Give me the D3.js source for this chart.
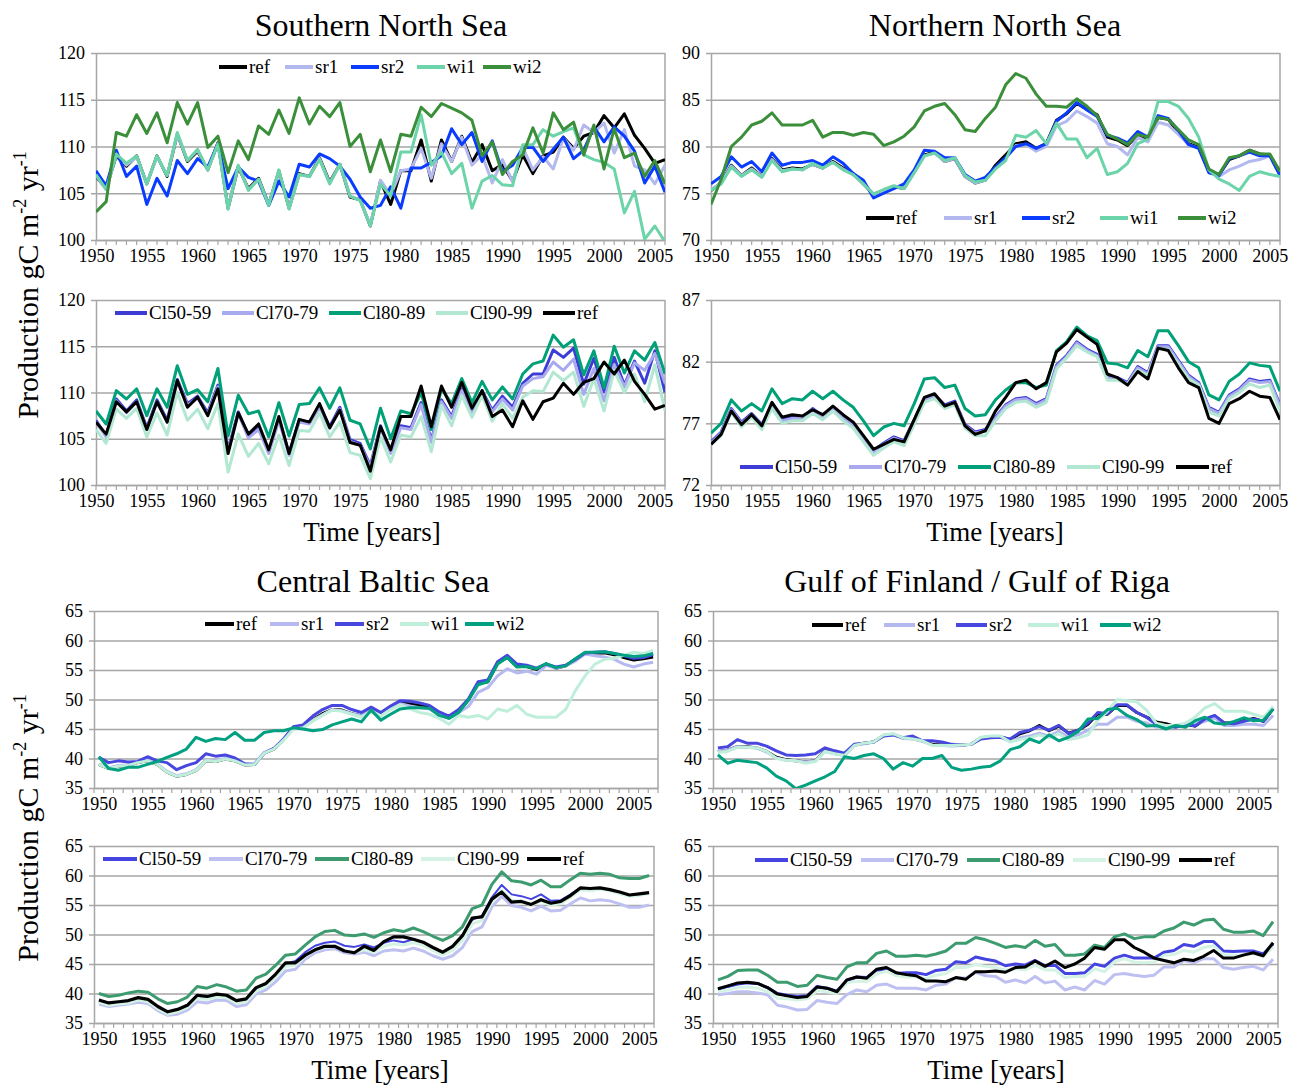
<!DOCTYPE html>
<html>
<head>
<meta charset="utf-8">
<script src="https://cdn.jsdelivr.net/npm/d3@7"></script>
<style>
  body { margin: 0; background: #fff; }
  svg text { font-family: "Liberation Serif", "Times New Roman", serif !important; fill: #000; }
</style>
</head>
<body>
<script>
// ---- categories / ticks ----
const ticksSouth = [100, 105, 110, 115, 120];
const ticksNorth = [70, 75, 80, 85, 90];
const ticksNorthCl = [72, 77, 82, 87];
const ticksBaltic = [35, 40, 45, 50, 55, 60, 65];
const scenNames = ['ref', 'sr1', 'sr2', 'wi1', 'wi2'];
const climNames = ['Cl50-59', 'Cl70-79', 'Cl80-89', 'Cl90-99', 'ref'];

// ---- Southern North Sea, 1950-2006 ----
const refSouth = [106.8, 105.5, 109.0, 107.9, 109.0, 106.0, 109.0, 106.8, 111.3, 108.4,
  109.5, 107.5, 110.4, 103.4, 107.8, 105.5, 106.6, 103.8, 107.4, 103.4,
  107.1, 106.8, 108.8, 106.2, 108.1, 104.6, 104.3, 101.5, 106.3, 103.8,
  107.4, 107.4, 110.7, 106.3, 110.7, 108.4, 111.1, 108.3, 110.2, 107.4,
  108.1, 106.3, 109.1, 107.1, 109.0, 109.4, 111.0, 109.8, 111.1, 111.5,
  113.3, 112.0, 113.5, 111.2, 109.8, 108.2, 108.6];
const sr1South = [106.9, 105.4, 109.1, 108.0, 108.9, 106.0, 108.9, 106.9, 111.3, 108.5,
  109.6, 107.5, 110.3, 103.4, 107.9, 105.4, 106.5, 103.8, 107.4, 103.4,
  107.0, 106.8, 108.7, 106.1, 108.1, 104.7, 104.3, 101.6, 106.4, 104.8,
  107.4, 107.6, 109.8, 106.6, 110.3, 108.4, 111.0, 108.0, 109.1, 106.1,
  108.6, 106.2, 109.9, 107.5, 108.9, 107.6, 110.9, 109.6, 112.3, 111.5,
  112.5, 109.3, 111.8, 107.9, 107.5, 106.0, 108.0];
const sr2South = [107.4, 105.8, 109.6, 106.8, 107.9, 103.8, 106.6, 104.7, 108.5, 107.1,
  108.7, 107.8, 110.3, 105.5, 107.8, 106.7, 106.3, 103.7, 106.3, 104.6,
  108.1, 107.8, 109.2, 108.7, 107.9, 106.5, 104.6, 103.4, 103.7, 105.7,
  103.4, 107.7, 107.7, 108.3, 109.0, 111.9, 110.2, 111.5, 108.4, 110.6,
  107.3, 108.0, 109.9, 109.9, 108.4, 109.7, 111.0, 108.7, 109.6, 112.1,
  110.5, 112.1, 111.1, 109.5, 106.1, 107.9, 105.1];
const wi1South = [107.0, 105.4, 109.2, 108.2, 109.0, 106.0, 109.0, 106.9, 111.5, 108.5,
  109.7, 107.5, 110.3, 103.3, 108.0, 105.3, 106.5, 103.7, 107.5, 103.3,
  107.0, 106.8, 108.6, 106.0, 108.1, 104.7, 104.2, 101.5, 106.0, 104.7,
  109.4, 109.4, 113.4, 108.0, 109.4, 107.1, 108.2, 103.4, 106.3, 106.9,
  105.9, 105.8, 110.2, 110.2, 111.8, 111.1, 111.6, 112.0, 109.1, 108.6,
  108.3, 107.6, 102.9, 105.2, 100.1, 101.5, 99.8];
const wi2South = [103.0, 104.1, 111.5, 111.1, 113.4, 111.4, 113.6, 110.4, 114.7, 112.4,
  114.7, 109.9, 111.1, 107.2, 110.6, 108.6, 112.2, 111.3, 113.9, 111.4,
  115.2, 112.4, 114.3, 113.2, 114.7, 110.0, 111.3, 107.3, 110.7, 107.3,
  111.3, 111.1, 114.2, 113.2, 114.6, 114.1, 113.6, 112.8, 109.0, 110.5,
  107.0, 108.4, 109.1, 112.0, 109.3, 113.6, 111.8, 112.6, 109.1, 112.3,
  107.6, 111.9, 108.8, 109.3, 106.8, 108.5, 106.0];
const cl50South = [107.0, 105.3, 109.3, 108.0, 109.2, 106.2, 109.2, 107.0, 111.4, 108.8,
  109.6, 107.8, 110.8, 103.8, 107.9, 105.3, 106.2, 103.6, 107.2, 103.4,
  107.0, 106.8, 108.6, 106.3, 108.4, 104.9, 104.5, 102.1, 106.4, 103.6,
  106.4, 106.2, 108.9, 104.8, 109.2, 107.4, 110.4, 107.8, 110.2, 108.1,
  109.6, 108.4, 111.0, 112.0, 112.0, 114.6, 113.8, 114.8, 110.9, 113.7,
  110.1, 113.8, 110.8, 113.4, 111.0, 114.5, 110.0];
const cl70South = [106.8, 105.2, 109.1, 107.8, 109.0, 106.0, 109.0, 106.8, 111.2, 108.6,
  109.4, 107.6, 110.6, 103.6, 107.7, 105.1, 106.0, 103.4, 107.0, 103.2,
  106.8, 106.6, 108.4, 106.1, 108.2, 104.7, 104.3, 101.9, 106.2, 103.4,
  106.2, 106.0, 108.7, 104.6, 109.0, 107.2, 110.2, 107.6, 110.0, 107.9,
  109.3, 108.1, 110.7, 111.5, 111.7, 113.3, 112.4, 113.6, 109.8, 112.6,
  109.1, 113.0, 110.6, 113.2, 112.4, 114.2, 111.0];
const cl80South = [108.0, 106.6, 110.2, 109.3, 110.4, 107.5, 110.4, 108.4, 112.9, 109.8,
  110.3, 109.0, 112.6, 105.3, 109.7, 107.7, 108.0, 105.2, 108.9, 105.3,
  108.7, 108.8, 110.5, 108.3, 110.5, 107.0, 106.6, 103.9, 108.3, 105.0,
  108.0, 107.7, 110.0, 106.0, 110.4, 108.8, 111.5, 108.9, 111.2, 109.2,
  110.6, 109.3, 112.0, 113.1, 113.4, 116.2, 114.9, 115.7, 111.9, 114.5,
  110.5, 115.0, 112.1, 114.5, 113.5, 115.4, 112.0];
const cl90South = [106.0, 104.5, 108.2, 107.2, 108.3, 105.2, 107.8, 105.4, 110.0, 107.0,
  108.2, 106.1, 108.8, 101.4, 105.5, 103.1, 104.5, 102.3, 105.4, 102.1,
  105.9, 105.8, 107.8, 105.2, 106.8, 103.5, 103.2, 100.7, 105.2, 102.5,
  105.4, 105.2, 107.4, 103.6, 108.6, 106.4, 109.7, 107.3, 109.7, 106.9,
  108.8, 107.2, 109.5, 110.2, 110.1, 112.2, 111.3, 112.2, 108.5, 111.5,
  108.0, 112.4, 110.0, 112.0, 109.0, 113.0, 108.0];

// ---- Northern North Sea, 1950-2006 ----
const refNorth = [75.3, 76.1, 78.0, 76.9, 77.7, 76.8, 78.7, 77.5, 77.7, 77.6,
  78.1, 77.7, 78.4, 77.7, 77.1, 76.0, 74.9, 75.3, 75.7, 75.5,
  77.3, 79.1, 79.4, 78.4, 78.7, 76.8, 76.1, 76.4, 78.0, 79.1,
  80.3, 80.5, 79.8, 80.3, 82.8, 83.5, 84.6, 84.0, 83.4, 81.0,
  80.7, 80.1, 81.2, 80.6, 83.1, 82.9, 81.5, 80.3, 79.9, 77.4,
  77.0, 78.6, 79.0, 79.6, 79.2, 79.1, 77.3];
const sr1North = [75.4, 76.1, 77.9, 76.9, 77.6, 76.8, 78.6, 77.4, 77.6, 77.5,
  78.1, 77.7, 78.3, 77.6, 77.0, 76.0, 74.9, 75.3, 75.7, 75.5,
  77.2, 79.0, 79.3, 78.4, 78.7, 76.8, 76.1, 76.4, 77.7, 78.7,
  80.1, 80.2, 79.5, 80.0, 82.2, 82.7, 83.8, 83.2, 82.5, 80.3,
  80.0, 79.1, 81.0, 80.5, 82.6, 82.3, 81.3, 80.2, 79.8, 77.3,
  76.8, 77.5, 77.9, 78.4, 78.6, 79.0, 77.0];
const sr2North = [76.0, 76.8, 78.9, 77.8, 78.4, 77.3, 79.3, 78.0, 78.3, 78.3,
  78.5, 78.0, 78.9, 78.2, 77.1, 76.4, 74.5, 75.0, 75.5, 76.0,
  77.5, 79.6, 79.5, 78.8, 78.8, 77.0, 76.3, 76.7, 77.8, 78.8,
  80.0, 80.3, 79.8, 80.3, 82.7, 83.6, 84.7, 83.9, 83.2, 81.2,
  80.9, 80.4, 81.6, 81.0, 83.3, 83.0, 81.7, 80.2, 79.8, 77.2,
  76.9, 78.7, 79.0, 79.4, 79.0, 79.0, 76.9];
const wi1North = [75.3, 76.0, 77.8, 76.8, 77.5, 76.7, 78.5, 77.3, 77.6, 77.5,
  78.2, 77.7, 78.3, 77.5, 77.0, 76.0, 74.9, 75.4, 75.8, 75.5,
  77.2, 79.0, 79.3, 78.5, 78.8, 76.9, 76.2, 76.4, 77.6, 78.5,
  81.2, 81.0, 81.7, 80.3, 82.5, 80.8, 80.8, 78.8, 79.8, 77.0,
  77.3, 78.2, 80.3, 80.8, 84.8, 84.8, 84.3, 83.0, 81.0, 77.5,
  76.5, 76.0, 75.3, 76.8, 77.3, 77.0, 76.8];
const wi2North = [73.8, 76.5, 80.0, 81.0, 82.3, 82.7, 83.6, 82.3, 82.3, 82.3,
  82.8, 81.0, 81.5, 81.5, 81.2, 81.5, 81.3, 80.1, 80.5, 81.1,
  82.1, 83.8, 84.3, 84.6, 83.4, 81.8, 81.6, 83.0, 84.2, 86.6,
  87.8, 87.3, 85.6, 84.3, 84.3, 84.2, 85.1, 84.3, 83.3, 81.3,
  80.8, 80.2, 81.3, 81.0, 83.1, 82.9, 81.8, 80.7, 80.2, 77.6,
  77.0, 78.8, 79.0, 79.6, 79.2, 79.2, 77.3];
const cl50North = [75.5, 76.3, 78.2, 77.1, 77.8, 76.9, 78.5, 77.3, 77.5, 77.5,
  78.2, 77.6, 78.3, 77.5, 76.9, 75.8, 74.8, 75.4, 75.9, 75.6,
  77.3, 79.0, 79.3, 78.5, 78.8, 76.9, 76.3, 76.5, 77.5, 78.5,
  79.0, 79.1, 78.6, 79.0, 81.7, 82.5, 83.6, 83.0, 82.6, 80.8,
  80.7, 80.3, 81.6, 81.1, 83.3, 83.3, 82.1, 80.9, 80.3, 78.3,
  77.9, 79.3, 79.8, 80.6, 80.4, 80.5, 78.5];
const cl70North = [75.4, 76.2, 78.1, 77.0, 77.7, 76.8, 78.4, 77.2, 77.4, 77.4,
  78.1, 77.5, 78.2, 77.4, 76.8, 75.7, 74.7, 75.3, 75.8, 75.5,
  77.2, 78.9, 79.2, 78.4, 78.7, 76.8, 76.2, 76.4, 77.4, 78.4,
  78.9, 79.0, 78.5, 78.9, 81.6, 82.4, 83.5, 82.9, 82.5, 80.7,
  80.6, 80.2, 81.5, 81.0, 83.2, 83.2, 82.0, 80.8, 80.2, 78.2,
  77.8, 79.2, 79.7, 80.5, 80.3, 80.4, 78.4];
const cl80North = [76.2, 77.0, 78.9, 78.0, 78.6, 78.0, 79.8, 78.6, 79.0, 78.9,
  79.6, 79.0, 79.6, 78.9, 78.3, 77.2, 76.0, 76.7, 77.0, 76.8,
  78.6, 80.6, 80.7, 79.9, 80.1, 78.2, 77.6, 77.7, 78.9, 79.7,
  80.3, 80.3, 79.9, 80.1, 82.9, 83.6, 84.8, 84.1, 83.7, 81.9,
  81.8, 81.5, 82.9, 82.4, 84.5, 84.5, 83.3, 82.0, 81.5, 79.3,
  78.9, 80.4, 81.0, 81.9, 81.7, 81.6, 79.6];
const cl90North = [75.3, 76.0, 77.9, 76.7, 77.5, 76.5, 78.2, 77.0, 77.2, 77.2,
  77.8, 77.3, 78.0, 77.2, 76.6, 75.5, 74.4, 75.0, 75.5, 75.2,
  76.9, 78.7, 79.0, 78.2, 78.5, 76.6, 76.0, 76.0, 77.2, 78.2,
  78.7, 78.8, 78.3, 78.7, 81.4, 82.3, 83.3, 82.8, 82.4, 80.5,
  80.5, 80.2, 81.3, 80.9, 83.0, 83.0, 81.8, 80.6, 80.1, 77.9,
  77.6, 79.0, 79.5, 80.2, 79.9, 80.1, 78.0];

// ---- Central Baltic Sea, scenarios 1950-2007 ----
const refCentral = [39.0, 38.3, 38.7, 38.8, 39.3, 39.6, 39.0, 37.7, 37.0, 37.3,
  38.0, 39.6, 39.5, 39.9, 39.6, 38.9, 39.0, 40.9, 41.6, 43.2,
  45.2, 45.3, 46.6, 47.6, 48.3, 48.2, 47.6, 47.2, 48.2, 47.4,
  48.6, 49.4, 49.3, 49.0, 48.7, 47.6, 47.0, 48.0, 49.9, 52.7,
  53.0, 56.1, 57.2, 55.6, 55.6, 55.1, 56.0, 55.3, 55.7, 56.8,
  57.9, 57.9, 57.9, 57.6, 57.1, 56.7, 56.9, 57.2];
const sr1Central = [39.1, 38.4, 38.8, 38.9, 39.4, 39.7, 39.1, 37.8, 37.1, 37.4,
  38.1, 39.7, 39.6, 40.0, 39.7, 39.0, 39.1, 41.0, 41.7, 43.3,
  45.0, 45.2, 46.5, 47.4, 48.3, 48.1, 47.6, 47.2, 48.2, 47.3,
  48.5, 49.3, 48.9, 48.6, 48.4, 47.5, 46.8, 47.8, 48.8, 51.2,
  52.0, 54.0, 55.2, 54.5, 54.8, 54.3, 55.8, 55.3, 55.7, 56.5,
  57.7, 57.4, 57.2, 56.8, 56.0, 55.5, 56.0, 56.3];
const sr2Central = [40.2, 39.3, 39.6, 39.4, 39.5, 40.3, 39.6, 39.3, 38.1, 38.8,
  39.3, 40.8, 40.4, 40.6, 40.1, 39.1, 39.0, 40.9, 41.7, 43.3,
  45.4, 45.7, 47.2, 48.3, 49.0, 49.0, 48.3, 47.8, 48.7, 47.8,
  48.9, 49.8, 49.7, 49.4, 49.0, 47.9, 47.2, 48.3, 50.1, 53.0,
  53.3, 56.4, 57.5, 56.0, 55.8, 55.3, 56.0, 55.5, 55.8, 56.8,
  57.9, 58.0, 58.1, 57.8, 57.4, 57.0, 57.1, 57.6];
const wi1Central = [39.0, 38.3, 38.7, 38.8, 39.3, 39.6, 39.0, 37.7, 37.0, 37.3,
  38.0, 39.6, 39.5, 39.9, 39.6, 38.9, 39.0, 40.9, 41.6, 43.1,
  45.0, 45.2, 46.3, 47.3, 48.2, 48.0, 47.5, 47.0, 48.0, 47.2,
  48.3, 49.1, 48.4, 47.8, 47.5, 46.8, 45.8, 47.3, 47.0, 47.3,
  46.7, 48.4, 48.0, 49.0, 47.5, 47.0, 47.0, 47.0, 48.3, 51.5,
  54.0, 56.0, 56.8, 57.0, 57.5, 58.0, 57.8, 58.3];
const wi2Central = [40.3, 38.3, 38.0, 38.5, 38.5, 39.0, 39.5, 40.2, 40.8, 41.6,
  43.6, 42.9, 43.4, 43.2, 44.4, 43.1, 43.1, 44.4, 44.7, 44.7,
  45.2, 45.0, 44.7, 44.9, 45.7, 46.2, 46.7, 46.2, 48.2, 46.5,
  47.5, 48.4, 48.6, 48.6, 48.5, 47.3, 46.8, 47.8, 49.9, 52.5,
  53.0, 56.0, 57.1, 55.5, 55.6, 55.2, 56.1, 55.4, 55.7, 56.9,
  58.0, 58.0, 58.1, 57.8, 57.5, 57.3, 57.4, 57.8];

// ---- Gulf of Finland / Gulf of Riga, scenarios 1950-2007 ----
const refGulf = [41.2, 41.4, 42.0, 42.0, 41.8, 41.2, 40.2, 39.8, 39.6, 39.4,
  39.6, 41.3, 40.9, 40.6, 42.3, 42.6, 42.8, 43.9, 44.1, 43.5,
  43.4, 43.0, 42.4, 42.3, 42.2, 42.3, 42.4, 43.5, 43.7, 43.7,
  43.2, 44.2, 44.7, 45.6, 44.7, 45.5, 44.3, 44.8, 45.8, 47.6,
  47.5, 49.0, 49.0, 47.8, 47.0, 46.2, 45.9, 45.4, 45.8, 45.5,
  46.6, 47.2, 46.0, 46.0, 46.4, 46.8, 46.3, 48.4];
const sr1Gulf = [41.2, 41.4, 42.0, 41.9, 41.8, 41.1, 40.1, 39.7, 39.6, 39.4,
  39.6, 41.2, 40.8, 40.5, 42.2, 42.5, 42.8, 43.8, 44.0, 43.4,
  43.3, 42.9, 42.3, 42.2, 42.1, 42.2, 42.4, 43.4, 43.6, 43.6,
  42.9, 43.5, 43.8, 44.3, 43.8, 44.6, 43.6, 44.0, 44.8, 45.8,
  45.8, 47.0, 47.0, 46.3, 46.0, 45.3, 45.5, 45.6, 45.8, 45.8,
  46.3, 46.9, 45.6, 45.6, 45.8, 45.8, 45.6, 47.3];
const sr2Gulf = [41.8, 42.0, 43.2, 42.6, 42.6, 42.1, 41.3, 40.6, 40.5, 40.6,
  40.8, 41.8, 41.3, 40.9, 42.4, 42.6, 42.8, 43.8, 44.0, 43.5,
  43.8, 43.0, 43.0, 42.8, 42.4, 42.3, 42.4, 43.3, 43.5, 43.6,
  43.3, 44.4, 44.8, 45.4, 44.8, 45.6, 44.2, 44.8, 46.0, 47.8,
  47.6, 49.1, 49.1, 47.8, 47.0, 45.8, 45.5, 45.3, 45.8, 45.5,
  46.7, 47.3, 46.0, 45.9, 46.3, 46.7, 46.3, 48.5];
const wi1Gulf = [41.0, 41.2, 41.9, 41.9, 41.8, 41.2, 40.0, 39.7, 39.6, 39.2,
  39.5, 41.2, 40.8, 40.5, 42.2, 42.6, 42.8, 44.0, 44.2, 43.5,
  43.3, 43.0, 42.2, 42.2, 42.2, 42.3, 42.4, 43.6, 43.8, 43.8,
  42.8, 43.2, 43.5, 44.0, 43.5, 44.2, 43.2, 43.5, 44.0, 46.5,
  48.0, 50.0, 49.8, 49.6, 48.2, 46.0, 45.6, 45.6, 46.0, 47.0,
  48.6, 49.3, 48.0, 48.0, 48.0, 47.5, 47.0, 48.8];
const wi2Gulf = [40.6, 39.2, 39.7, 39.5, 39.3, 38.4, 37.0, 36.2, 34.9, 35.5,
  36.2, 36.9, 37.8, 40.3, 40.0, 40.5, 40.8, 40.0, 38.2, 39.3,
  38.7, 40.0, 40.0, 40.5, 38.5, 38.0, 38.2, 38.5, 38.7, 39.6,
  41.5, 42.0, 43.3, 42.7, 44.0, 43.0, 43.6, 44.6, 46.7, 46.8,
  48.3, 48.5, 47.3, 46.6, 45.5, 45.6, 45.0, 45.6, 45.3, 46.4,
  47.0, 46.0, 45.8, 46.3, 46.9, 46.4, 46.5, 48.4];

// ---- Central Baltic Sea, climatologies 1950-2006 ----
const cl50Central = [38.6, 38.2, 38.4, 38.7, 39.0, 38.8, 37.6, 36.8, 37.0, 37.6,
  39.3, 39.1, 39.5, 39.3, 38.4, 38.7, 40.6, 41.4, 43.0, 45.0,
  45.5, 47.0, 48.1, 48.6, 48.8, 48.1, 47.9, 48.3, 47.8, 48.6,
  49.0, 48.7, 49.2, 48.7, 47.8, 47.0, 47.9, 49.8, 52.5, 53.2,
  56.3, 58.4, 56.8, 56.5, 56.0, 56.8, 55.7, 55.8, 56.8, 57.9,
  57.6, 57.8, 57.5, 57.0, 56.7, 56.8, 57.1];
const cl70Central = [38.2, 37.8, 38.0, 38.2, 38.5, 38.3, 37.1, 36.3, 36.5, 37.2,
  38.6, 38.4, 38.9, 38.8, 37.8, 38.1, 39.9, 40.6, 42.0, 43.8,
  44.1, 45.8, 46.9, 47.4, 47.6, 46.9, 46.7, 47.0, 46.4, 47.2,
  47.4, 47.2, 47.7, 47.2, 46.4, 45.8, 46.4, 47.8, 50.5, 51.3,
  54.7, 56.5, 54.9, 54.6, 54.0, 54.8, 54.0, 54.1, 55.2, 56.2,
  55.7, 55.9, 55.7, 55.2, 54.6, 54.6, 55.0];
const cl80Central = [40.0, 39.5, 39.7, 40.1, 40.4, 40.2, 39.1, 38.3, 38.6, 39.4,
  41.2, 40.9, 41.5, 41.1, 40.4, 40.6, 42.6, 43.3, 44.8, 46.5,
  46.7, 48.2, 49.6, 50.5, 50.7, 49.9, 49.8, 50.1, 49.5, 50.3,
  50.8, 50.5, 51.1, 50.5, 49.7, 49.0, 49.8, 51.3, 54.4, 55.0,
  58.5, 60.6, 59.1, 58.9, 58.4, 59.2, 58.1, 58.1, 59.3, 60.4,
  60.2, 60.4, 60.2, 59.6, 59.5, 59.5, 60.0];
const cl90Central = [38.5, 38.0, 38.2, 38.4, 38.9, 38.6, 37.4, 36.5, 36.9, 37.6,
  39.2, 39.0, 39.4, 39.3, 38.3, 38.6, 40.4, 41.2, 42.7, 44.6,
  44.8, 46.3, 47.3, 47.8, 48.0, 47.2, 46.9, 47.4, 47.0, 48.0,
  48.4, 48.2, 48.6, 48.2, 47.3, 46.5, 47.3, 49.0, 51.8, 52.4,
  55.5, 57.5, 55.8, 55.6, 55.0, 55.7, 55.0, 55.2, 56.3, 57.6,
  57.4, 57.7, 57.4, 56.9, 56.5, 56.6, 57.0];
const refCentralCl = [38.9, 38.4, 38.6, 38.8, 39.3, 39.0, 37.8, 36.9, 37.3, 38.0,
  39.7, 39.5, 39.9, 39.7, 38.8, 39.1, 41.0, 41.7, 43.3, 45.2,
  45.2, 46.5, 47.4, 48.0, 48.0, 47.2, 46.9, 48.0, 47.3, 48.8,
  49.6, 49.6, 49.2, 48.7, 47.8, 47.0, 48.0, 49.8, 52.8, 53.0,
  56.0, 57.2, 55.5, 55.6, 55.1, 55.9, 55.3, 55.6, 56.6, 57.9,
  57.8, 57.9, 57.6, 57.2, 56.7, 56.9, 57.1];

// ---- Gulf of Finland / Gulf of Riga, climatologies 1950-2006 ----
const cl50Gulf = [40.7, 41.2, 41.6, 41.8, 41.7, 41.0, 40.0, 39.7, 39.5, 39.6,
  41.2, 40.9, 40.4, 42.2, 42.8, 42.7, 44.0, 44.0, 43.4, 43.5,
  43.5, 43.2, 43.9, 44.1, 45.4, 45.2, 46.2, 45.8, 45.5, 44.7,
  45.0, 44.8, 45.6, 44.7, 44.8, 43.4, 43.4, 43.5, 45.0, 44.6,
  46.0, 46.5, 46.0, 46.0, 46.0, 47.0, 47.3, 48.3, 48.0, 48.8,
  48.8, 47.2, 47.1, 47.2, 47.2, 46.7, 48.4];
const cl70Gulf = [39.8, 40.0, 40.3, 40.3, 40.1, 39.8, 38.0, 37.7, 37.2, 37.3,
  38.8, 38.5, 38.3, 39.8, 40.6, 40.3, 41.4, 41.6, 40.9, 40.9,
  40.9, 40.6, 41.4, 41.6, 42.7, 42.6, 43.6, 43.0, 42.9, 41.9,
  42.3, 41.8, 42.9, 41.8, 42.1, 40.6, 41.1, 40.6, 42.2, 41.6,
  43.2, 43.4, 43.1, 42.9, 43.1, 44.5, 44.5, 45.6, 45.2, 45.9,
  45.9, 44.4, 44.1, 44.4, 44.6, 44.0, 45.8];
const cl80Gulf = [42.3, 42.9, 43.9, 44.0, 44.0, 43.1, 41.9, 41.9, 41.2, 41.4,
  43.1, 42.7, 42.4, 44.5, 45.2, 45.2, 46.8, 47.2, 46.3, 46.3,
  46.5, 46.3, 46.7, 47.2, 48.5, 48.5, 49.5, 49.1, 48.5, 47.8,
  48.1, 47.8, 49.0, 48.0, 48.3, 46.5, 46.5, 46.7, 48.2, 47.8,
  49.6, 50.1, 49.3, 49.6, 49.6, 50.6, 51.1, 52.1, 51.6, 52.4,
  52.6, 50.9, 50.4, 50.4, 50.6, 49.8, 52.2];
const cl90Gulf = [40.3, 40.6, 41.0, 41.1, 40.9, 40.3, 39.2, 39.1, 38.9, 39.1,
  40.5, 40.3, 40.0, 41.8, 42.1, 42.0, 43.3, 43.8, 43.0, 42.8,
  42.8, 42.5, 43.1, 43.4, 44.4, 44.4, 44.9, 44.6, 44.4, 44.0,
  44.2, 44.0, 44.8, 44.0, 44.0, 42.7, 42.9, 42.9, 44.2, 43.7,
  45.4, 45.9, 45.3, 45.2, 45.3, 46.5, 46.6, 47.3, 47.0, 47.8,
  48.1, 46.6, 46.5, 46.5, 46.8, 46.2, 47.9];
const refGulfCl = [40.8, 41.3, 41.8, 41.9, 41.7, 41.0, 39.9, 39.6, 39.3, 39.5,
  41.1, 40.9, 40.3, 42.3, 42.8, 42.6, 44.1, 44.4, 43.5, 43.2,
  43.0, 42.1, 42.1, 42.0, 42.7, 42.4, 43.7, 43.7, 43.8, 43.6,
  44.4, 44.5, 45.5, 44.6, 45.5, 44.4, 45.0, 46.0, 47.8, 47.5,
  49.1, 49.1, 47.8, 47.0, 46.0, 45.6, 45.2, 45.8, 45.6, 46.3,
  47.3, 46.0, 46.0, 46.5, 46.9, 46.4, 48.6];

// ---- styles ----
const colScenNS = ['#000000', '#b3b9ef', '#0a3cff', '#6cd4a9', '#3b8f3b'];
const colClimNS = ['#3d3dd6', '#a9a9ee', '#00a078', '#b2e8d2', '#000000'];
const colScenB = ['#000000', '#b5b9f0', '#4747e0', '#bfeedb', '#00a080'];
const colClimB = ['#4444e0', '#bfc0f2', '#3d9b70', '#d4f3e4', '#000000'];
const serif = '"Liberation Serif", "Times New Roman", serif';

const panels = [
  { title: 'Southern North Sea', tx: 381, ty: 36, x0: 96, x1: 665, y0: 53, y1: 240,
    dom: [100, 120], ticks: ticksSouth, start: 1950, n: 57, between: false,
    names: scenNames, colors: colScenNS,
    series: [refSouth, sr1South, sr2South, wi1South, wi2South],
    leg: { x: 219, y: 67, pitch: 66, len: 28 } },
  { title: 'Northern North Sea', tx: 995, ty: 36, x0: 711, x1: 1280, y0: 53, y1: 240,
    dom: [70, 90], ticks: ticksNorth, start: 1950, n: 57, between: false,
    names: scenNames, colors: colScenNS,
    series: [refNorth, sr1North, sr2North, wi1North, wi2North],
    leg: { x: 866, y: 218, pitch: 78, len: 28 } },
  { x0: 96, x1: 665, y0: 300, y1: 485, xlabel: 372,
    dom: [100, 120], ticks: ticksSouth, start: 1950, n: 57, between: false,
    names: climNames, colors: colClimNS,
    series: [cl50South, cl70South, cl80South, cl90South, refSouth],
    leg: { x: 115, y: 313, pitch: 107, len: 32 } },
  { x0: 711, x1: 1280, y0: 300, y1: 485, xlabel: 995,
    dom: [72, 87], ticks: ticksNorthCl, start: 1950, n: 57, between: false,
    names: climNames, colors: colClimNS,
    series: [cl50North, cl70North, cl80North, cl90North, refNorth],
    leg: { x: 740, y: 467, pitch: 109, len: 33 } },
  { title: 'Central Baltic Sea', tx: 373, ty: 592, x0: 94, x1: 658, y0: 611, y1: 788,
    dom: [35, 65], ticks: ticksBaltic, start: 1950, n: 58, between: true,
    names: scenNames, colors: colScenB,
    series: [refCentral, sr1Central, sr2Central, wi1Central, wi2Central],
    leg: { x: 205, y: 624, pitch: 65, len: 29 } },
  { title: 'Gulf of Finland / Gulf of Riga', tx: 977, ty: 592, x0: 713, x1: 1278, y0: 611, y1: 788,
    dom: [35, 65], ticks: ticksBaltic, start: 1950, n: 58, between: true,
    names: scenNames, colors: colScenB,
    series: [refGulf, sr1Gulf, sr2Gulf, wi1Gulf, wi2Gulf],
    leg: { x: 812, y: 625, pitch: 72, len: 31 } },
  { x0: 94, x1: 654, y0: 846, y1: 1023, xlabel: 380,
    dom: [35, 65], ticks: ticksBaltic, start: 1950, n: 57, between: true,
    names: climNames, colors: colClimB, widths: [2, 3, 3, 3, 3.2],
    series: [cl50Central, cl70Central, cl80Central, cl90Central, refCentralCl],
    leg: { x: 103, y: 859, pitch: 106, len: 34 } },
  { x0: 713, x1: 1278, y0: 846, y1: 1023, xlabel: 996,
    dom: [35, 65], ticks: ticksBaltic, start: 1950, n: 57, between: true,
    names: climNames, colors: colClimB,
    series: [cl50Gulf, cl70Gulf, cl80Gulf, cl90Gulf, refGulfCl],
    leg: { x: 755, y: 860, pitch: 106, len: 33 } }
];

const grid = '#a6a6a6';
const svg = d3.select('body').append('svg')
  .attr('width', 1300).attr('height', 1086)
  .style('font-family', serif);

panels.forEach((p, pi) => {
  const years = d3.range(p.start, p.start + p.n);
  const x = d3.scalePoint().domain(years).range([p.x0, p.x1]).padding(p.between ? 0.5 : 0);
  const y = d3.scaleLinear().domain(p.dom).range([p.y1, p.y0]);
  const g = svg.append('g');

  // horizontal gridlines
  g.append('g')
    .attr('transform', `translate(${p.x0},0)`)
    .call(d3.axisLeft(y).tickValues(p.ticks).tickSize(-(p.x1 - p.x0)).tickFormat(''))
    .call(a => a.select('.domain').remove())
    .call(a => a.selectAll('line').attr('stroke', grid).attr('stroke-width', 1.5));

  // right border
  g.append('line')
    .attr('x1', p.x1).attr('x2', p.x1).attr('y1', p.y0).attr('y2', p.y1)
    .attr('stroke', grid).attr('stroke-width', 1.5);

  // y axis
  g.append('g')
    .attr('transform', `translate(${p.x0},0)`)
    .call(d3.axisLeft(y).tickValues(p.ticks).tickSize(5).tickPadding(6).tickSizeOuter(0))
    .attr('font-family', null)
    .call(a => a.select('.domain').attr('stroke', grid).attr('stroke-width', 1.5))
    .call(a => a.selectAll('line').attr('stroke', grid).attr('stroke-width', 1.5))
    .call(a => a.selectAll('text').style('font-size', '18px').style('font-family', serif));

  // x axis: minor ticks
  const step = x.step();
  const tickPos = p.between
    ? d3.range(p.n + 1).map(i => p.x0 + i * step)
    : years.map(yr => x(yr));
  g.append('g').selectAll('line').data(tickPos).join('line')
    .attr('x1', d => d).attr('x2', d => d)
    .attr('y1', p.y1).attr('y2', p.y1 + 5)
    .attr('stroke', grid).attr('stroke-width', 1.2);

  g.append('g')
    .attr('transform', `translate(0,${p.y1})`)
    .call(d3.axisBottom(x).tickValues(years.filter(yr => (yr - 1950) % 5 === 0))
      .tickSize(0).tickPadding(9))
    .attr('font-family', null)
    .call(a => a.select('.domain').attr('stroke', grid).attr('stroke-width', 1.5))
    .call(a => a.selectAll('text').style('font-size', '18px').style('font-family', serif));

  // clip
  const cid = 'clip' + pi;
  svg.append('clipPath').attr('id', cid).append('rect')
    .attr('x', p.x0).attr('y', p.y0 - 2).attr('width', p.x1 - p.x0).attr('height', p.y1 - p.y0 + 2);

  // series
  const line = d3.line().x(d => x(d[0])).y(d => y(d[1]));
  const sg = g.append('g').attr('clip-path', `url(#${cid})`);
  p.series.forEach((vals, si) => {
    const pts = vals.map((v, i) => [p.start + i, v]);
    sg.append('path')
      .attr('d', line(pts))
      .attr('fill', 'none')
      .attr('stroke', p.colors[si])
      .attr('stroke-width', p.widths ? p.widths[si] : 3)
      .attr('stroke-linejoin', 'round');
  });

  // legend
  const lg = g.append('g');
  p.names.forEach((nm, si) => {
    const lx = p.leg.x + si * p.leg.pitch;
    lg.append('line')
      .attr('x1', lx).attr('x2', lx + p.leg.len)
      .attr('y1', p.leg.y).attr('y2', p.leg.y)
      .attr('stroke', p.colors[si]).attr('stroke-width', 4);
    lg.append('text')
      .attr('x', lx + p.leg.len + 2).attr('y', p.leg.y + 6)
      .style('font-size', '19px')
      .text(nm);
  });

  if (p.title) {
    svg.append('text').attr('x', p.tx).attr('y', p.ty)
      .attr('text-anchor', 'middle').style('font-size', '32px').text(p.title);
  }
  if (p.xlabel) {
    svg.append('text').attr('x', p.xlabel).attr('y', p.y1 + 56)
      .attr('text-anchor', 'middle').style('font-size', '27px').text('Time [years]');
  }
});

// y axis titles
[285, 828].forEach(cy => {
  const t = svg.append('text')
    .attr('transform', `translate(38,${cy}) rotate(-90)`)
    .attr('text-anchor', 'middle').style('font-size', '30px');
  t.append('tspan').text('Production gC m');
  t.append('tspan').style('font-size', '18px').attr('dy', -12).text('-2');
  t.append('tspan').attr('dy', 12).text(' yr');
  t.append('tspan').style('font-size', '18px').attr('dy', -12).text('-1');
});
</script>
</body>
</html>
